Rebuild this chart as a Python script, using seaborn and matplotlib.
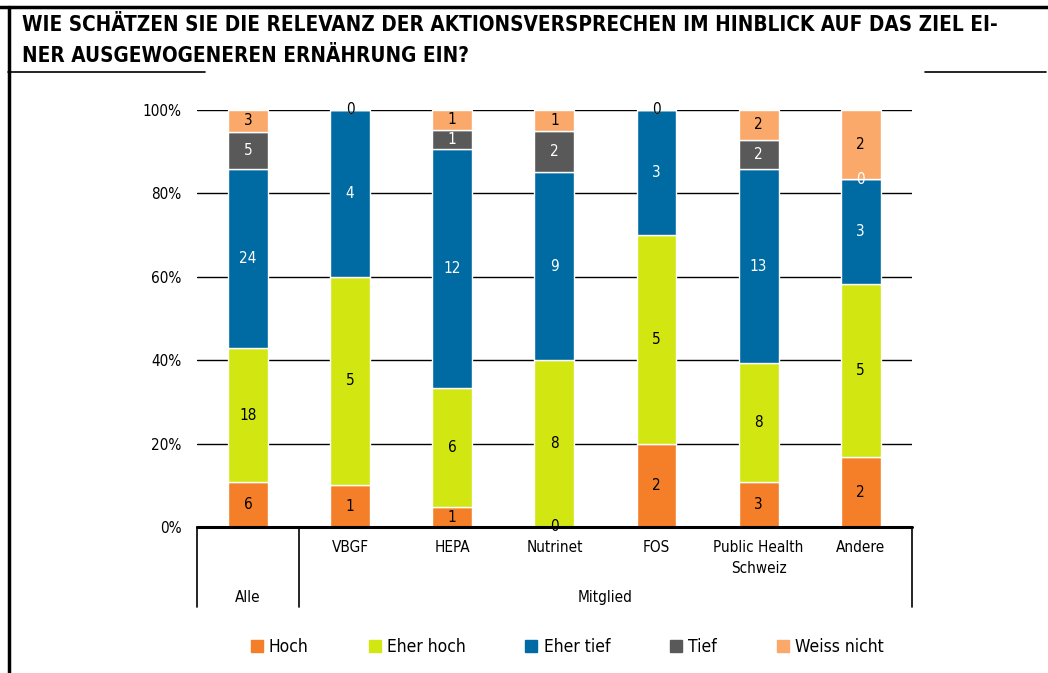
import numpy as np
import pandas as pd
import matplotlib.pyplot as plt
import seaborn as sns
from matplotlib.lines import Line2D

# Data (counts per answer)
groups = ['Alle', 'VBGF', 'HEPA', 'Nutrinet', 'FOS', 'Public Health\nSchweiz', 'Andere']
hoch = [6, 1, 1, 0, 2, 3, 2]
eher_hoch = [18, 5, 6, 8, 5, 8, 5]
eher_tief = [24, 4, 12, 9, 3, 13, 3]
tief = [5, 0, 1, 2, 0, 2, 0]
weiss_nicht = [3, 0, 1, 1, 0, 2, 2]

answers = ['Hoch', 'Eher hoch', 'Eher tief', 'Tief', 'Weiss nicht']
colors = ['#F57E28', '#D2E712', '#006BA2', '#595959', '#FBA96B']
text_colors = ['black', 'black', 'white', 'white', 'black']

counts = pd.DataFrame([hoch, eher_hoch, eher_tief, tief, weiss_nicht], index=answers, columns=groups)
shares = counts / counts.sum() * 100

sns.set_style('white')
plt.rcParams['font.family'] = ['DejaVu Sans']
plt.rcParams['font.stretch'] = 'condensed'
for k in ['text.color', 'axes.labelcolor', 'xtick.color', 'ytick.color']:
    plt.rcParams[k] = 'black'

fig = plt.figure(figsize=(10.48, 6.73), dpi=100)
ax = fig.add_axes([0.188, 0.217, 0.682, 0.620])

# stacked bars
bottom = np.zeros(len(groups))
for ans, col, tcol in zip(answers, colors, text_colors):
    sub = pd.DataFrame({'Gruppe': groups, 'pct': shares.loc[ans].values})
    sns.barplot(data=sub, x='Gruppe', y='pct', order=groups, color=col, saturation=1,
                width=0.39, bottom=bottom, errorbar=None, ax=ax, zorder=3)
    for i, g in enumerate(groups):
        val = counts.loc[ans, g]
        h = shares.loc[ans, g]
        ax.text(i, bottom[i] + h / 2, str(val), ha='center', va='center',
                color=tcol, fontsize=11, zorder=5)
    bottom = bottom + shares.loc[ans].values

ax.set_ylim(0, 100)
ax.set_xlim(-0.5, 6.5)
ax.set_yticks(range(0, 101, 20))
ax.set_yticklabels([f'{v}%' for v in range(0, 101, 20)], fontsize=11)
ax.tick_params(axis='y', length=0, pad=11)
ax.set_xticks([])
ax.set_xlabel('')
ax.set_ylabel('')
for s in ax.spines.values():
    s.set_visible(False)
for v in range(20, 101, 20):
    ax.axhline(v, color='black', lw=1, zorder=1)
ax.axhline(0, color='black', lw=2.2, zorder=4, clip_on=False)

# category table below the axis
tr = ax.get_xaxis_transform()
for xb in [-0.5, 0.5, 6.5]:
    ax.plot([xb, xb], [0, -0.192], color='black', lw=1.2, transform=tr, clip_on=False)
for i, g in enumerate(groups[1:], start=1):
    ax.text(i, -0.032, g, ha='center', va='top', fontsize=11, transform=tr, linespacing=1.45)
ax.text(0, -0.17, 'Alle', ha='center', va='center', fontsize=11, transform=tr)
ax.text(3.5, -0.17, 'Mitglied', ha='center', va='center', fontsize=11, transform=tr)

# legend
handles = [Line2D([], [], marker='s', ls='', color=c, markersize=8) for c in colors]
fig.legend(handles, answers, loc='center', bbox_to_anchor=(0.54, 0.038), ncol=5,
           frameon=False, fontsize=12.5, columnspacing=3.3, handletextpad=0.2, handlelength=1)

# title, scaled so the first line spans the width of the reference title
title = fig.text(0.021, 0.977, 'WIE SCHÄTZEN SIE DIE RELEVANZ DER AKTIONSVERSPRECHEN IM HINBLICK AUF DAS ZIEL EI-\nNER AUSGEWOGENEREN ERNÄHRUNG EIN?',
                 ha='left', va='top', fontsize=16, fontweight='bold', linespacing=1.65)
fig.canvas.draw()
w = title.get_window_extent().width
title.set_fontsize(16 * 978 / w)

fig.add_artist(Line2D([0, 1], [0.99, 0.99], color='black', lw=2.5, transform=fig.transFigure))
fig.add_artist(Line2D([0.0085, 0.0085], [0, 0.99], color='black', lw=2.5, transform=fig.transFigure))
fig.add_artist(Line2D([0.008, 0.196], [0.893, 0.893], color='black', lw=1.2, transform=fig.transFigure))
fig.add_artist(Line2D([0.883, 0.998], [0.893, 0.893], color='black', lw=1.2, transform=fig.transFigure))

fig.savefig('out.png', dpi=100)
